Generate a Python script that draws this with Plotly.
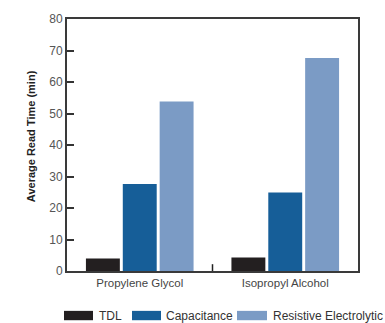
import plotly.graph_objects as go

categories = ["Propylene Glycol", "Isopropyl Alcohol"]
series_names = ["TDL", "Capacitance", "Resistive Electrolytic"]
tdl = [4.0, 4.3]
capacitance = [27.6, 24.9]
resistive = [53.8, 67.6]
y_ticks = [0, 10, 20, 30, 40, 50, 60, 70, 80]

colors = ["#231f20", "#165e98", "#7b9bc5"]
series_values = [tdl, capacitance, resistive]

FONT = "Liberation Sans"
fig = go.Figure()
for name, vals, col in zip(series_names, series_values, colors):
    fig.add_trace(go.Bar(x=categories, y=vals, name=name,
                         marker=dict(color=col, line=dict(width=0)),
                         showlegend=False))

fig.update_layout(
    width=385, height=323,
    margin=dict(l=67, r=27, t=15, b=52),
    plot_bgcolor="white", paper_bgcolor="white",
    barmode="group", bargap=0.24, bargroupgap=0.08,
    font=dict(family=FONT, size=11, color="#444444"),
    xaxis=dict(showline=True, linecolor="#3a3a3a", linewidth=2, mirror=True,
               ticks="", tickfont=dict(size=11.5, color="#444444"),
               showgrid=False),
    yaxis=dict(range=[0, 80], tickvals=y_ticks, showline=True,
               linecolor="#3a3a3a", linewidth=2, mirror=True,
               ticks="inside", ticklen=7, tickwidth=2, tickcolor="#333333",
               tickfont=dict(size=12, color="#555555"), showgrid=False),
)

# y axis title
fig.add_annotation(xref="paper", yref="paper", x=(31 - 67) / 291,
                   y=(271 - 134) / 256, text="<b>Average Read Time (min)</b>",
                   textangle=-90, showarrow=False, xanchor="center",
                   yanchor="middle",
                   font=dict(size=11, color="#222222", family=FONT))

# small divider tick between categories on the x axis
fig.add_shape(type="line", xref="x domain", yref="y domain",
              x0=0.5, x1=0.5, y0=0, y1=0.027,
              line=dict(color="#222222", width=1.5))

# custom legend (wide swatches)
legend_items = [(64, 93, 97), (132, 161, 164), (237, 267, 271)]
for (sx0, sx1, tx), name, col in zip(legend_items, series_names, colors):
    fig.add_shape(type="rect", xref="paper", yref="paper",
                  x0=(sx0 - 67) / 291, x1=(sx1 - 67) / 291,
                  y0=(271 - 321) / 256, y1=(271 - 311.5) / 256,
                  fillcolor=col, line=dict(width=0))
    fig.add_annotation(xref="paper", yref="paper", x=(tx - 67) / 291,
                       y=(271 - 316.5) / 256, text=name, showarrow=False,
                       xanchor="left", yanchor="middle",
                       font=dict(size=12, color="#333333", family=FONT))

fig.write_html("out.html", config={"displayModeBar": False},
               post_script="document.body.style.margin='0';")
